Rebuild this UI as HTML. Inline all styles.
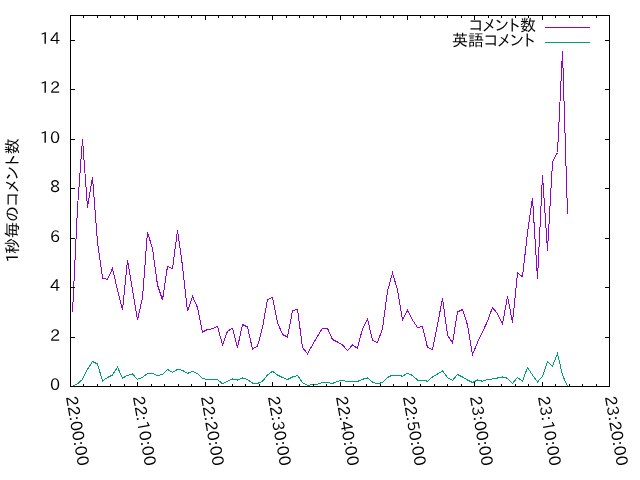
<!DOCTYPE html>
<html lang="ja"><head><meta charset="utf-8"><title>コメント数</title>
<style>
html,body{margin:0;padding:0;background:#fff}
svg{display:block}
text{font-family:"IPAPGothic","Liberation Sans","IPAGothic",sans-serif;font-size:16px;fill:#000}
</style></head><body>
<svg width="640" height="480" viewBox="0 0 640 480">
<rect width="640" height="480" fill="#fff"/>
<g fill="none" stroke-width="1" shape-rendering="crispEdges">
<polyline stroke="#9400d3" points="72.5,312.5 77.5,207.5 82.5,139 87.5,207.5 92.5,177 97.5,242 102.5,278 107.5,279.5 112.5,268.5 117.5,290 122.5,310 127.5,260 132.5,290 137.5,320 142.5,297.5 147.5,232 152.5,248.75 157.5,285 162.5,300 167.5,266.25 172.5,268.75 177.5,230 182.5,266 187.5,311.25 192.5,296.25 197.5,307.5 202.5,332 207.5,329.5 212.5,328.75 217.5,326.25 222.5,345 227.5,331.25 232.5,328.25 237.5,347.5 242.5,324.5 247.5,327 252.5,349 257.5,346.25 262.5,327.5 267.5,299.5 272.5,297.5 277.5,322.5 282.5,334.5 287.5,337 292.5,310.75 297.5,309.25 302.5,347.5 307.5,353.75 312.5,345 317.5,336.25 322.5,328.25 327.5,328.25 332.5,339.5 337.5,342 342.5,345 347.5,350.5 352.5,345 357.5,348.25 362.5,328.75 367.5,318.75 372.5,340.5 377.5,342.5 382.5,328.75 387.5,291.25 392.5,273 397.5,290 402.5,320 407.5,310.5 412.5,320 417.5,327.5 422.5,326.5 427.5,347.5 432.5,349.5 437.5,325 442.5,298.25 447.5,335 452.5,343 457.5,312 462.5,309.5 467.5,325 472.5,354.5 477.5,342.5 482.5,332 487.5,321.25 492.5,307.5 497.5,313.75 502.5,324.25 507.5,296.25 512.5,322.5 517.5,273 522.5,276.75 527.5,232.5 532.5,198 537.5,278.75 542.5,175 547.5,250.5 552.5,162 557.5,152.5 562.5,51.5 567.5,213.75"/>
<polyline stroke="#009e73" points="72.5,386.5 77.5,383.75 82.5,379.4 87.5,369.4 92.5,361.5 97.5,364 102.5,381 107.5,377.5 112.5,375 117.5,367.25 122.5,378.1 127.5,375.4 132.5,374 137.5,379.4 142.5,377.25 147.5,373.5 152.5,373.5 157.5,375.6 162.5,374.4 167.5,369.4 172.5,372.25 177.5,369.4 182.5,370.4 187.5,373.5 192.5,371.25 197.5,373.5 202.5,378.5 207.5,379.5 212.5,379.5 217.5,379.5 222.5,383.75 227.5,381.25 232.5,379 237.5,380 242.5,378 247.5,379.5 252.5,383 257.5,383.5 262.5,381.25 267.5,375 272.5,371.25 277.5,375 282.5,377.5 287.5,379.5 292.5,377 297.5,375.5 302.5,382.5 307.5,385.5 312.5,384.5 317.5,384.25 322.5,382.5 327.5,382.5 332.5,383.5 337.5,381.25 342.5,380.5 347.5,381.5 352.5,381.5 357.5,381.5 362.5,379.25 367.5,378 372.5,382 377.5,383.75 382.5,382.5 387.5,377.5 392.5,375 397.5,375 402.5,376.25 407.5,373.25 412.5,375.5 417.5,380 422.5,380 427.5,381.25 432.5,377 437.5,374 442.5,371 447.5,377.5 452.5,380.5 457.5,374.5 462.5,377 467.5,380 472.5,382.5 477.5,380 482.5,381.25 487.5,379.25 492.5,379 497.5,378 502.5,377 507.5,378.25 512.5,383.5 517.5,377.5 522.5,381.25 527.5,367.5 532.5,375 537.5,382 542.5,376.25 547.5,361.5 552.5,366.25 557.5,353.5 562.5,375 567.5,386.5"/>
<path stroke="#9400d3" d="M545 27.5H590"/>
<path stroke="#009e73" d="M545 42.5H590"/>
</g>
<g fill="none" stroke="#000" stroke-width="1" shape-rendering="crispEdges">
<path d="M83.5 384V387M83.5 15V18M97.5 384V387M97.5 15V18M110.5 384V387M110.5 15V18M124.5 384V387M124.5 15V18M137.5 382V387M137.5 15V20M151.5 384V387M151.5 15V18M164.5 384V387M164.5 15V18M178.5 384V387M178.5 15V18M191.5 384V387M191.5 15V18M205.5 382V387M205.5 15V20M218.5 384V387M218.5 15V18M232.5 384V387M232.5 15V18M245.5 384V387M245.5 15V18M259.5 384V387M259.5 15V18M272.5 382V387M272.5 15V20M286.5 384V387M286.5 15V18M299.5 384V387M299.5 15V18M313.5 384V387M313.5 15V18M326.5 384V387M326.5 15V18M340.5 382V387M340.5 15V20M353.5 384V387M353.5 15V18M366.5 384V387M366.5 15V18M380.5 384V387M380.5 15V18M393.5 384V387M393.5 15V18M407.5 382V387M407.5 15V20M420.5 384V387M420.5 15V18M434.5 384V387M434.5 15V18M447.5 384V387M447.5 15V18M461.5 384V387M461.5 15V18M474.5 382V387M474.5 15V20M488.5 384V387M488.5 15V18M501.5 384V387M501.5 15V18M515.5 384V387M515.5 15V18M528.5 384V387M528.5 15V18M542.5 382V387M542.5 15V20M555.5 384V387M555.5 15V18M569.5 384V387M569.5 15V18M582.5 384V387M582.5 15V18M596.5 384V387M596.5 15V18M70 337.5H75M605 337.5H610M70 287.5H75M605 287.5H610M70 238.5H75M605 238.5H610M70 188.5H75M605 188.5H610M70 139.5H75M605 139.5H610M70 89.5H75M605 89.5H610M70 40.5H75M605 40.5H610"/>
<rect x="70.5" y="15.5" width="539.0" height="371.0"/>
</g>
<text x="60" y="390" text-anchor="end" textLength="10.0781">0</text>
<text x="60" y="341" text-anchor="end" textLength="10.0781">2</text>
<text x="60" y="291" text-anchor="end" textLength="10.0781">4</text>
<text x="60" y="242" text-anchor="end" textLength="10.0781">6</text>
<text x="60" y="192" text-anchor="end" textLength="10.0781">8</text>
<text x="60" y="143" text-anchor="end" textLength="20.1562">10</text>
<text x="60" y="93" text-anchor="end" textLength="20.1562">12</text>
<text x="60" y="44" text-anchor="end" textLength="20.1562">14</text>
<text transform="translate(65.7 397) rotate(80)" textLength="70.703125">22:00:00</text>
<text transform="translate(132.7 397) rotate(80)" textLength="70.703125">22:10:00</text>
<text transform="translate(200.7 397) rotate(80)" textLength="70.703125">22:20:00</text>
<text transform="translate(267.7 397) rotate(80)" textLength="70.703125">22:30:00</text>
<text transform="translate(335.7 397) rotate(80)" textLength="70.703125">22:40:00</text>
<text transform="translate(402.7 397) rotate(80)" textLength="70.703125">22:50:00</text>
<text transform="translate(469.7 397) rotate(80)" textLength="70.703125">23:00:00</text>
<text transform="translate(537.7 397) rotate(80)" textLength="70.703125">23:10:00</text>
<text transform="translate(604.7 397) rotate(80)" textLength="70.703125">23:20:00</text>
<text x="536" y="31" text-anchor="end" textLength="67.046875">コメント数</text>
<text x="535" y="45.8" text-anchor="end" textLength="83.046875">英語コメント</text>
<text transform="translate(18 200.5) rotate(-90)" text-anchor="middle" dx="0 -1.2 0 0.1 0.2 0.1 0.2 0.2 0.4" textLength="124.640625">1秒毎のコメント数</text>
</svg>
</body></html>
